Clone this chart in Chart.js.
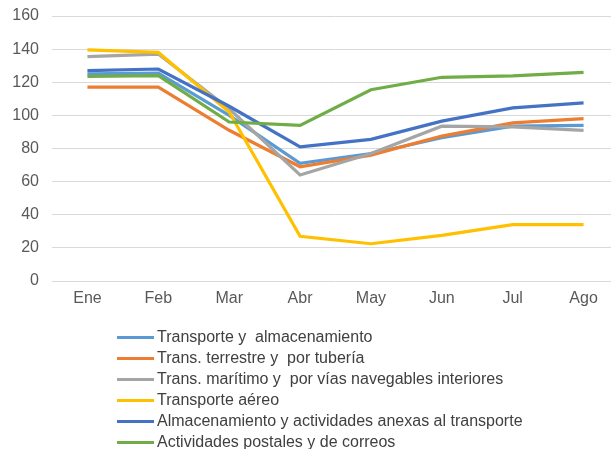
<!DOCTYPE html>
<html>
<head>
<meta charset="utf-8">
<script src="https://cdn.jsdelivr.net/npm/chart.js@4"></script>
<style>
  html, body { margin: 0; padding: 0; background: #fff; overflow: hidden; }
  #wrap { width: 620px; height: 449px; position: relative; }
</style>
</head>
<body>
<div id="wrap"><canvas id="c"></canvas></div>
<script>
const categories = ["Ene", "Feb", "Mar", "Abr", "May", "Jun", "Jul", "Ago"];
const seriesNames = [
  "Transporte y  almacenamiento",
  "Trans. terrestre y  por tubería",
  "Trans. marítimo y  por vías navegables interiores",
  "Transporte aéreo",
  "Almacenamiento y actividades anexas al transporte",
  "Actividades postales y de correos"
];
const transporteAlmacenamiento = [125, 125.5, 100, 71, 77, 86.5, 93.5, 94];
const transTerrestre = [117, 117, 91, 69, 76, 87.5, 95.5, 98];
const transMaritimo = [135.5, 137, 104, 64, 77, 93.5, 93, 91];
const transporteAereo = [139.5, 138, 102, 27, 22.5, 27.5, 34, 34];
const almacenamientoAnexas = [127, 128, 105.5, 81, 85.5, 96.5, 104.5, 107.5];
const postalesCorreos = [123.5, 124, 96, 94, 115.5, 123, 123.8, 126];
const yTicks = [0, 20, 40, 60, 80, 100, 120, 140, 160];

const seriesValues = [transporteAlmacenamiento, transTerrestre, transMaritimo, transporteAereo, almacenamientoAnexas, postalesCorreos];
const colors = ["#5B9BD5", "#ED7D31", "#A5A5A5", "#FFC000", "#4472C4", "#70AD47"];
const FONT = "'Liberation Sans', Arial, sans-serif";

const legendPlugin = {
  id: 'customLegend',
  afterDraw(chart) {
    const ctx = chart.ctx;
    ctx.save();
    ctx.font = "16px " + FONT;
    ctx.textBaseline = "middle";
    chart.data.datasets.forEach((ds, i) => {
      const y = 337.5 + i * 21;
      ctx.fillStyle = ds.borderColor;
      ctx.fillRect(117, y - 1.5, 37, 3);
      ctx.fillStyle = "#404040";
      ctx.fillText(ds.label, 157, y);
    });
    ctx.restore();
  }
};

new Chart(document.getElementById('c'), {
  type: 'line',
  data: {
    labels: categories,
    datasets: seriesNames.map((name, i) => ({
      label: name,
      data: seriesValues[i],
      borderColor: colors[i],
      backgroundColor: colors[i],
      borderWidth: 3.2,
      pointRadius: 0,
      tension: 0,
      fill: false,
      order: seriesNames.length - i
    }))
  },
  options: {
    responsive: true,
    maintainAspectRatio: false,
    animation: false,
    layout: { padding: { left: 0, right: 1, top: 16, bottom: 138 } },
    plugins: { legend: { display: false }, tooltip: { enabled: false } },
    scales: {
      x: {
        offset: true,
        afterFit(scale) { scale.height = 30; },
        grid: { display: false, drawTicks: false },
        border: { display: false },
        ticks: { color: "#595959", font: { size: 16, family: FONT }, padding: 8 }
      },
      y: {
        min: 0, max: 160,
        afterFit(scale) { scale.width = 52; scale.paddingTop = 0; scale.paddingBottom = 0; },
        afterBuildTicks(axis) { axis.ticks = yTicks.map(v => ({ value: v })); },
        grid: { color: "#D9D9D9", lineWidth: 1, drawTicks: false },
        border: { display: false },
        ticks: { color: "#595959", font: { size: 16, family: FONT }, padding: 13 }
      }
    }
  },
  plugins: [legendPlugin]
});
</script>
</body>
</html>
